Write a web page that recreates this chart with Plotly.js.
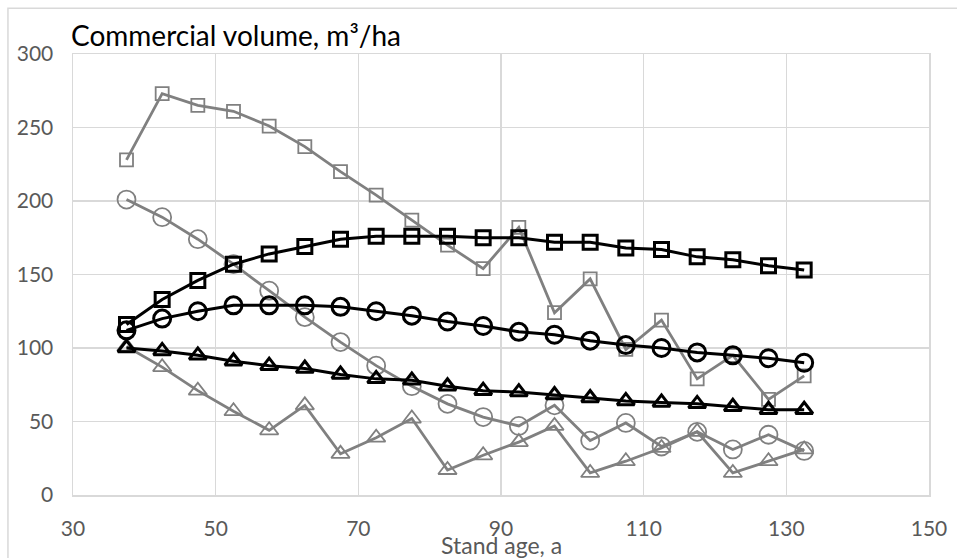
<!DOCTYPE html>
<html>
<head>
<meta charset="utf-8">
<script src="https://cdn.plot.ly/plotly-3.0.1.min.js"></script>
<style>
html,body{margin:0;padding:0;background:#fff;}
#chart{width:957px;height:558px;}
</style>
</head>
<body>
<div id="chart"></div>
<script>
const age = [37.5,42.5,47.5,52.5,57.5,62.5,67.5,72.5,77.5,82.5,87.5,92.5,97.5,102.5,107.5,112.5,117.5,122.5,127.5,132.5];

const graySquares   = [228,273,265,261,251,237,220,204,187,170,154,182,124,147,99,119,79,95,65,81];
const grayCircles   = [201,189,174,157,139,121,104,88,74,62,53,47,61,37,49,33,43,31,41,30];
const grayTriangles = [101,87,71,57,44,61,28,39,52,17,27,36,47,15,23,32,43,15,23,31];
const blackSquares  = [116,133,146,157,164,169,174,176,176,176,175,175,172,172,168,167,162,160,156,153];
const blackCircles  = [112,120,125,129,129,129,128,125,122,118,115,111,109,105,102,100,97,95,93,90];
const blackTriangles= [100,98,95,91,88,86,82,79,78,74,71,70,68,66,64,63,62,60,58,58];

const xTicks = [30,50,70,90,110,130,150];
const yTicks = [0,50,100,150,200,250,300];

const titleText = 'Commercial volume, m³/ha';
const xTitle = 'Stand age, a';

const gray = '#808080';
const black = '#000000';

function tr(y, sym, color, lw, mlw, msize){
  return {
    x: age, y: y, type:'scatter', mode:'lines+markers',
    line:{color:color, width:lw},
    marker:{symbol:sym, size:msize, color:color, line:{color:color, width:mlw}},
    hoverinfo:'skip'
  };
}

const data = [
  tr(graySquares,'square-open',gray,2.8,1.8,13),
  tr(grayCircles,'circle-open',gray,2.8,1.8,18),
  tr(grayTriangles,'triangle-up-open',gray,2.8,1.8,16),
  tr(blackSquares,'square-open',black,3,3,14),
  tr(blackCircles,'circle-open',black,3,3,17),
  tr(blackTriangles,'triangle-up-open',black,3,3,15)
];

const layout = {
  width:957, height:558,
  margin:{l:73, r:28, t:54, b:63},
  paper_bgcolor:'#ffffff', plot_bgcolor:'#ffffff',
  showlegend:false,
  font:{family:'Lato, "Open Sans", sans-serif', color:'#595959', size:21},
  xaxis:{
    range:[30,150], tickvals:xTicks, ticktext:xTicks.map(String),
    showgrid:true, gridcolor:'#d9d9d9', gridwidth:1.5,
    showline:true, mirror:true, linecolor:'#d9d9d9', linewidth:1.5,
    zeroline:false, ticks:'', ticklabelstandoff:14,
    tickfont:{size:21, color:'#595959'}
  },
  yaxis:{
    range:[0,300], tickvals:yTicks, ticktext:yTicks.map(String),
    showgrid:true, gridcolor:'#d9d9d9', gridwidth:1.5,
    showline:true, mirror:true, linecolor:'#d9d9d9', linewidth:1.5,
    zeroline:false, ticks:'', ticklabelstandoff:14,
    tickfont:{size:21, color:'#595959'}
  },
  annotations:[
    {text:titleText, xref:'paper', yref:'paper', x:0, y:1, xanchor:'left', yanchor:'bottom',
     showarrow:false, font:{size:28, color:'#000000'}, yshift:0, xshift:-4},
    {text:xTitle, xref:'paper', yref:'paper', x:0.5, y:0, xanchor:'center', yanchor:'top',
     showarrow:false, font:{size:23, color:'#595959'}, yshift:-34}
  ],
  shapes:[
    {type:'rect', xref:'paper', yref:'paper', x0:-0.076, x1:1.2, y0:-0.3, y1:1.104,
     line:{color:'#d9d9d9', width:1.5}, fillcolor:'rgba(0,0,0,0)', layer:'below'}
  ]
};

Plotly.newPlot('chart', data, layout, {displayModeBar:false, staticPlot:true});
</script>
</body>
</html>
